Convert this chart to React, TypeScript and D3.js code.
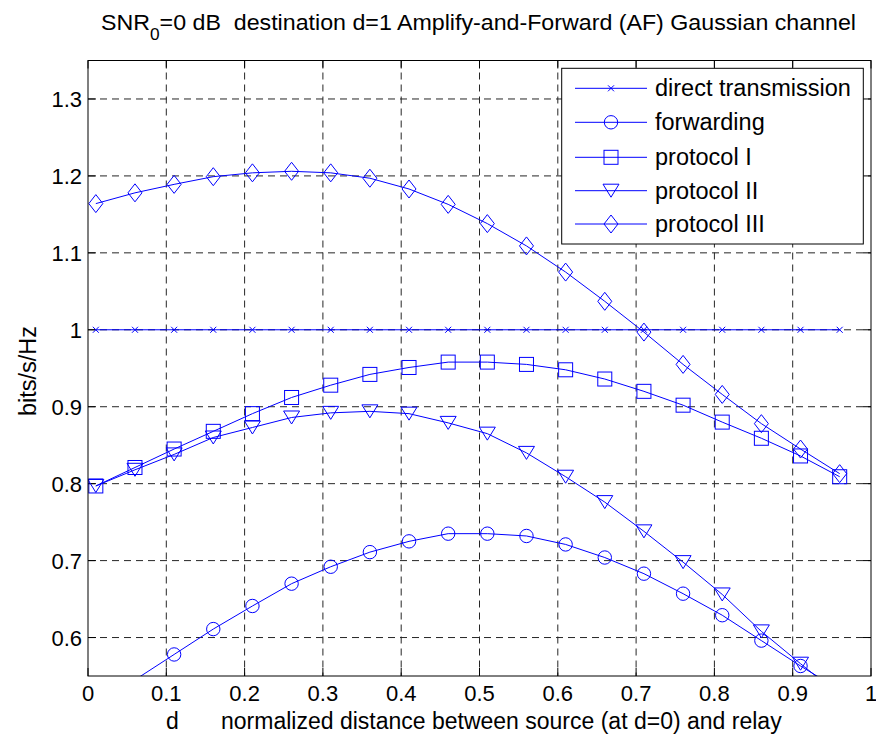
import React from "react";
import * as d3 from "d3";

const xValues = [0.01, 0.06, 0.11, 0.16, 0.21, 0.26, 0.31, 0.36, 0.41, 0.46, 0.51, 0.56, 0.61, 0.66, 0.71, 0.76, 0.81, 0.86, 0.91, 0.96];
const directTransmission = [1, 1, 1, 1, 1, 1, 1, 1, 1, 1, 1, 1, 1, 1, 1, 1, 1, 1, 1, 1];
const forwarding = [0.5, 0.545, 0.578, 0.611, 0.641, 0.67, 0.692, 0.711, 0.725, 0.735, 0.735, 0.732, 0.721, 0.704, 0.683, 0.657, 0.629, 0.596, 0.563, 0.532];
const protocolI = [0.797, 0.821, 0.845, 0.868, 0.891, 0.912, 0.928, 0.942, 0.951, 0.958, 0.958, 0.955, 0.948, 0.936, 0.92, 0.902, 0.88, 0.859, 0.836, 0.809];
const protocolII = [0.797, 0.818, 0.838, 0.86, 0.873, 0.886, 0.892, 0.894, 0.891, 0.879, 0.865, 0.84, 0.809, 0.776, 0.738, 0.698, 0.656, 0.608, 0.566, 0.525];
const protocolIII = [1.164, 1.178, 1.189, 1.199, 1.204, 1.206, 1.204, 1.197, 1.183, 1.163, 1.138, 1.109, 1.075, 1.037, 0.997, 0.955, 0.916, 0.878, 0.845, 0.813];

const seriesNames = ["direct transmission", "forwarding", "protocol I", "protocol II", "protocol III"];
const seriesMarkers = ["x", "o", "s", "v", "d"];
const xTicks = [0, 0.1, 0.2, 0.3, 0.4, 0.5, 0.6, 0.7, 0.8, 0.9, 1];
const xTickLabels = ["0", "0.1", "0.2", "0.3", "0.4", "0.5", "0.6", "0.7", "0.8", "0.9", "1"];
const yTicks = [0.6, 0.7, 0.8, 0.9, 1.0, 1.1, 1.2, 1.3];
const yTickLabels = ["0.6", "0.7", "0.8", "0.9", "1", "1.1", "1.2", "1.3"];

const W = 876, H = 740;
const L = 88, R = 871, T = 60.5, B = 676;
const BLUE = "#0000ff";
const FONT = "'Liberation Sans', Arial, Helvetica, sans-serif";

function Marker({ type, cx, cy }: { type: string; cx: number; cy: number }) {
  const p = { fill: "none", stroke: BLUE, strokeWidth: 1 };
  if (type === "x") {
    const s = 3;
    return <path d={`M${cx - s},${cy - s}L${cx + s},${cy + s}M${cx - s},${cy + s}L${cx + s},${cy - s}`} {...p} />;
  }
  if (type === "o") return <circle cx={cx} cy={cy} r={6.7} {...p} />;
  if (type === "s") return <rect x={cx - 7} y={cy - 7} width={14} height={14} {...p} />;
  if (type === "v") return <path d={`M${cx - 8},${cy - 6.5}L${cx + 8},${cy - 6.5}L${cx},${cy + 6.5}Z`} {...p} />;
  return <path d={`M${cx},${cy - 9}L${cx + 7},${cy}L${cx},${cy + 9}L${cx - 7},${cy}Z`} {...p} />;
}

export default function App() {
  const x = d3.scaleLinear().domain([0, 1]).range([L, R]);
  const y = d3.scaleLinear().domain([0.55, 1.35]).range([B, T]);
  const allSeries = [directTransmission, forwarding, protocolI, protocolII, protocolIII];
  const line = d3.line<number>().x((_, i) => x(xValues[i])).y((v) => y(v));
  const tickLen = 8;
  const legendRows = [88.3, 122.3, 157.3, 190.7, 224];
  return (
    <svg width={W} height={H} style={{ display: "block", position: "absolute", left: 0, top: 0, background: "#fff" }} fontFamily={FONT}>
      <rect x={0} y={0} width={W} height={H} fill="#fff" />
      <defs>
        <clipPath id="plotclip">
          <rect x={L} y={T} width={R - L} height={B - T} />
        </clipPath>
      </defs>
      {/* grid */}
      {xTicks.slice(1, -1).map((t) => (
        <line key={"gx" + t} x1={x(t)} x2={x(t)} y1={T} y2={B} stroke="#262626" strokeWidth={1} strokeDasharray="7,5" />
      ))}
      {yTicks.map((t) => (
        <line key={"gy" + t} x1={L} x2={R} y1={y(t)} y2={y(t)} stroke="#262626" strokeWidth={1} strokeDasharray="7,5" />
      ))}
      {/* ticks */}
      {xTicks.map((t) => (
        <g key={"tx" + t}>
          <line x1={x(t)} x2={x(t)} y1={B} y2={B - tickLen} stroke="#000" />
          <line x1={x(t)} x2={x(t)} y1={T} y2={T + tickLen} stroke="#000" />
        </g>
      ))}
      {yTicks.map((t) => (
        <g key={"ty" + t}>
          <line x1={L} x2={L + tickLen} y1={y(t)} y2={y(t)} stroke="#000" />
          <line x1={R} x2={R - tickLen} y1={y(t)} y2={y(t)} stroke="#000" />
        </g>
      ))}
      {/* data */}
      <g clipPath="url(#plotclip)">
        {allSeries.map((s, si) => (
          <g key={"s" + si}>
            <path d={line(s) || ""} fill="none" stroke={BLUE} strokeWidth={1} />
            {s.map((v, i) =>
              v >= 0.55 && v <= 1.35 ? <Marker key={i} type={seriesMarkers[si]} cx={x(xValues[i])} cy={y(v)} /> : null
            )}
          </g>
        ))}
      </g>
      {/* box */}
      <rect x={L} y={T} width={R - L} height={B - T} fill="none" stroke="#000" strokeWidth={1} />
      {/* tick labels */}
      {xTicks.map((t, i) => (
        <text key={"lx" + t} x={x(t)} y={701} textAnchor="middle" fontSize={22} fill="#000">{xTickLabels[i]}</text>
      ))}
      {yTicks.map((t, i) => (
        <text key={"ly" + t} x={82} y={y(t) + 8} textAnchor="end" fontSize={22} fill="#000">{yTickLabels[i]}</text>
      ))}
      {/* labels */}
      <text x={166} y={729} fontSize={23} fill="#000">d</text>
      <text x={221} y={729} fontSize={23} fill="#000">normalized distance between source (at d=0) and relay</text>
      <text transform={`translate(36,${371}) rotate(-90)`} textAnchor="middle" fontSize={23.5} fill="#000">bits/s/Hz</text>
      <g transform="translate(478.5,30) scale(1.08,1)">
        <text x={0} y={0} textAnchor="middle" fontSize={21.5} fill="#000">
          SNR<tspan fontSize={16} dy={10}>0</tspan><tspan dy={-10} style={{ whiteSpace: "pre" }}>{"=0 dB  destination d=1 Amplify-and-Forward (AF) Gaussian channel"}</tspan>
        </text>
      </g>
      {/* legend */}
      <rect x={561.7} y={68.3} width={301.6} height={175.7} fill="#fff" stroke="#000" strokeWidth={1} />
      {seriesNames.map((n, i) => (
        <g key={"lg" + i}>
          <line x1={575} x2={647} y1={legendRows[i]} y2={legendRows[i]} stroke={BLUE} strokeWidth={1} />
          <Marker type={seriesMarkers[i]} cx={611} cy={legendRows[i]} />
          <text x={655} y={legendRows[i] + 8} fontSize={23.5} fill="#000">{n}</text>
        </g>
      ))}
    </svg>
  );
}
